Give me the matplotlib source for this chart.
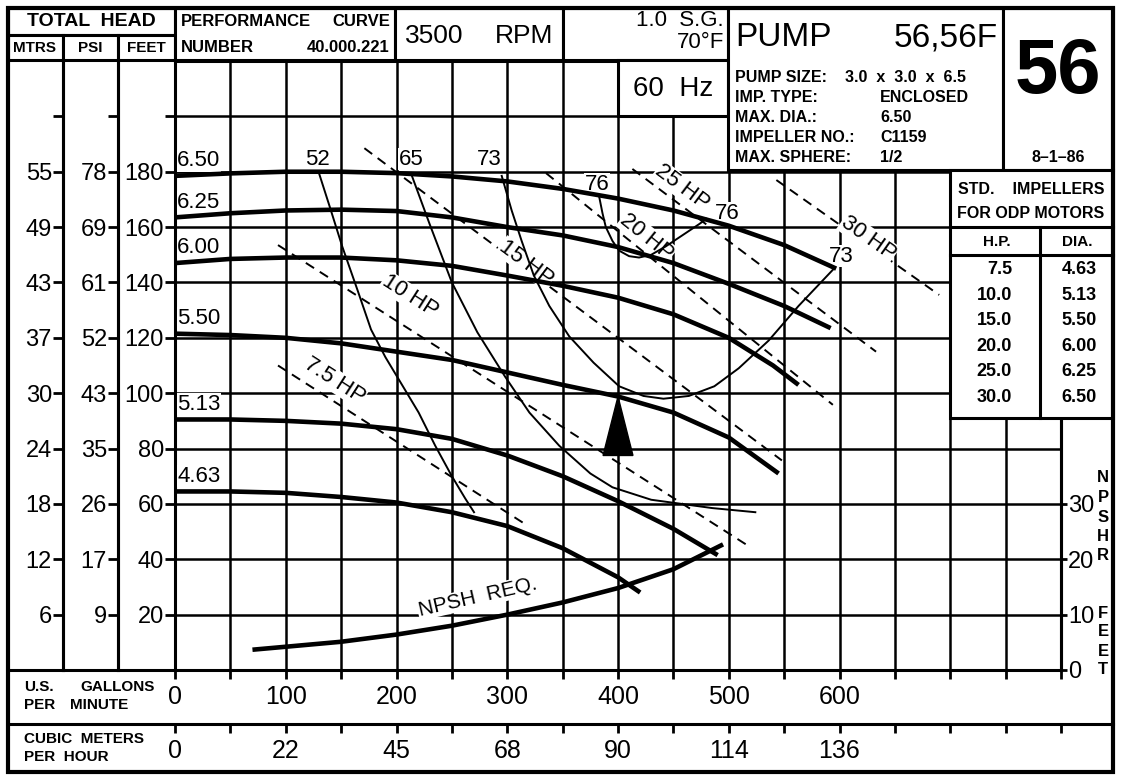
import numpy as np
import matplotlib
matplotlib.use("Agg")
import matplotlib.pyplot as plt
from matplotlib.patches import Rectangle, Polygon

plt.rcParams['font.family'] = ['Liberation Sans', 'DejaVu Sans']

W, H = 1122, 780

# ---- head curves per impeller diameter (US GPM -> total head, ft) ----
dia_names = ['6.50', '6.25', '6.00', '5.50', '5.13', '4.63']
gpm_650 = [0, 50, 100, 150, 200, 250, 300, 350, 400, 450, 500, 550, 597]
head_650 = [178.5, 179.4, 180, 180, 179.5, 178.3, 176.5, 173.8, 170.3, 166, 160.5, 153.5, 145]
gpm_625 = [0, 50, 100, 150, 200, 250, 300, 350, 400, 450, 500, 550, 592]
head_625 = [163.5, 165, 166, 166.3, 165.8, 163.5, 160, 157, 152.8, 147, 139.5, 131.5, 123.5]
gpm_600 = [0, 50, 100, 150, 200, 250, 300, 350, 400, 450, 500, 540, 563]
head_600 = [147, 148.5, 149, 149, 148, 146, 142.5, 138.8, 134.5, 128.5, 120, 110, 103]
gpm_550 = [0, 50, 100, 150, 200, 250, 300, 350, 400, 450, 500, 545]
head_550 = [121.5, 121, 120, 118, 115, 112, 107.5, 103, 98.8, 93, 84, 71]
gpm_513 = [0, 50, 100, 150, 200, 250, 300, 350, 400, 450, 490]
head_513 = [90.5, 90.5, 90, 89, 87, 83.5, 77.5, 70, 61, 51, 41.5]
gpm_463 = [0, 50, 100, 150, 200, 250, 300, 350, 400, 420]
head_463 = [64.5, 64.5, 64, 62.5, 60.5, 57, 52, 44, 33.5, 28]
dia_gpm = [gpm_650, gpm_625, gpm_600, gpm_550, gpm_513, gpm_463]
dia_head = [head_650, head_625, head_600, head_550, head_513, head_463]

# ---- efficiency curves (%) ----
eff52_gpm = [130, 140, 151, 165, 177, 190, 205, 220, 235, 250, 262, 270]
eff52_head = [179.5, 167, 153, 137, 123, 113, 103, 93, 81, 70, 62, 57]
eff65_gpm = [213, 230, 250, 273, 298, 320, 347, 375, 395, 430, 485, 524]
eff65_head = [179.5, 161, 140, 122, 106, 93, 81, 71, 66, 61.5, 58.5, 57]
eff73_gpm = [295, 304, 313, 324, 338, 356, 378, 401, 423, 441, 464, 487, 509, 536, 563, 595]
eff73_head = [178.5, 166, 155, 142.5, 131.5, 120.5, 111, 102.5, 99, 98, 99, 102.5, 109, 119, 131.5, 145]
eff76_gpm = [383, 386, 389, 395, 401, 410, 419, 430, 443, 458, 473, 480]
eff76_head = [171, 165, 160, 155, 151.5, 149.5, 149, 150, 153, 157, 161, 163]
eff_gpm = [eff52_gpm, eff65_gpm, eff73_gpm, eff76_gpm]
eff_head = [eff52_head, eff65_head, eff73_head, eff76_head]

# ---- motor horsepower lines ----
hp_names = ['7.5 HP', '10 HP', '15 HP', '20 HP', '25 HP', '30 HP']
hp_gpm = [[93, 315], [93, 517], [171, 548], [335, 594], [413, 633], [543, 690]]
hp_head = [[110, 53], [153.5, 45], [188.5, 75.7], [179.5, 95.8], [181, 115], [177, 135.5]]

# ---- NPSH required (ft) ----
npsh_gpm = [72, 100, 150, 200, 250, 300, 350, 400, 450, 493]
npsh_ft = [3.7, 4.2, 5.1, 6.4, 8.0, 10.0, 12.2, 14.8, 18.2, 22.5]

duty_gpm = 400

# ---- axis ticks ----
gpm_ticks = list(range(0, 801, 50))
gpm_labels = ['0', '100', '200', '300', '400', '500', '600']
m3h_labels = ['0', '22', '45', '68', '90', '114', '136']
feet_ticks = [20, 40, 60, 80, 100, 120, 140, 160, 180, 200]
feet_labels = ['20', '40', '60', '80', '100', '120', '140', '160', '180', '']
psi_labels = ['9', '17', '26', '35', '43', '52', '61', '69', '78', '']
mtrs_labels = ['6', '12', '18', '24', '30', '37', '43', '49', '55', '']
npsh_ticks = [0, 10, 20, 30]

table_hp = ['7.5', '10.0', '15.0', '20.0', '25.0', '30.0']
table_dia = ['4.63', '5.13', '5.50', '6.00', '6.25', '6.50']


def fr(x0, y0, x1, y1):
    # pixel box (top-left origin) -> figure fraction rect
    return [x0 / W, 1 - y1 / H, (x1 - x0) / W, (y1 - y0) / H]


def screen_angle(axis, xs, ys):
    p0 = axis.transData.transform((xs[0], ys[0]))
    p1 = axis.transData.transform((xs[-1], ys[-1]))
    return np.degrees(np.arctan2(p1[1] - p0[1], p1[0] - p0[0]))


fig = plt.figure(figsize=(W / 100, H / 100), dpi=100)
ax = fig.add_axes(fr(175, 61, 1061, 670))
ax.set_xlim(0, 800)
ax.set_ylim(0, 220)
ax.set_axisbelow(True)
ax.grid(True, color='black', lw=1.8)
for s in ax.spines.values():
    s.set_linewidth(2.2)

xlabs = []
for i, t in enumerate(gpm_ticks):
    xlabs.append(gpm_labels[i // 2] if i % 2 == 0 and i // 2 < len(gpm_labels) else '')
ax.set_xticks(gpm_ticks, xlabs)
ax.set_yticks(feet_ticks, feet_labels)
ax.tick_params(axis='x', direction='out', length=6.5, width=2, pad=4, labelsize=18)
ax.tick_params(axis='y', direction='out', length=7, width=2, pad=1, labelsize=17)

for loc, labs in [(-57 / 886, psi_labels), (-112 / 886, mtrs_labels)]:
    sec = ax.secondary_yaxis(loc)
    sec.set_yticks(feet_ticks, labs)
    sec.tick_params(direction='out', length=7, width=2, pad=1, labelsize=17)
    sec.spines['left'].set_linewidth(2.2)

# head / capacity curves
for g, h in zip(dia_gpm, dia_head):
    ax.plot(g, h, color='black', lw=3.3, zorder=4, solid_capstyle='butt')
for name, g, h in zip(dia_names, dia_gpm, dia_head):
    ax.text(2, h[0] + 3.5, name, fontsize=16, ha='left', va='baseline', zorder=3,
            bbox=dict(facecolor='white', edgecolor='none', pad=0.5))

# efficiency curves
for g, h in zip(eff_gpm, eff_head):
    ax.plot(g, h, color='black', lw=1.4, zorder=4)
eff_label_pos = [('52', 129, 184.5), ('65', 213, 184.5), ('73', 284, 184.5),
                 ('76', 381, 175.5), ('76', 499, 165), ('73', 602, 149.5)]
for s, x, y in eff_label_pos:
    ax.text(x, y, s, fontsize=16, ha='center', va='center', zorder=3,
            bbox=dict(facecolor='white', edgecolor='none', pad=0.5))

# horsepower lines
hp_label_at = [(144, 7.6), (212, 12), (317, 2.2), (426, 6.3), (458, 6.8), (626, 2.4)]
for name, g, h, (lx, off) in zip(hp_names, hp_gpm, hp_head, hp_label_at):
    ax.plot(g, h, color='black', lw=1.4, dashes=(5, 3.5), zorder=2.5)
    ly = np.interp(lx, g, h) + off
    ax.text(lx, ly, name, fontsize=16, ha='center', va='center', zorder=3,
            rotation=screen_angle(ax, g, h), rotation_mode='anchor',
            bbox=dict(facecolor='white', edgecolor='none', pad=0.5))

# duty point arrow
tip = np.interp(duty_gpm, gpm_550, head_550)
ax.add_patch(Polygon([[duty_gpm - 13.5, 77.5], [duty_gpm + 13.5, 77.5], [duty_gpm, tip]],
                     closed=True, facecolor='black', edgecolor='black', zorder=5))

# NPSH on its own right-hand scale
ax2 = ax.twinx()
ax2.set_ylim(0, 110)
ax2.set_yticks(npsh_ticks)
ax2.tick_params(axis='y', direction='out', length=4, width=2, pad=1, labelsize=17)
for k in ['left', 'top', 'bottom']:
    ax2.spines[k].set_visible(False)
ax2.spines['right'].set_linewidth(2.2)
ax2.plot(npsh_gpm, npsh_ft, color='black', lw=3.3, zorder=4)
ax2.text(273, np.interp(273, npsh_gpm, npsh_ft) + 4.2, 'NPSH  REQ.', fontsize=15,
         ha='center', va='center', rotation=screen_angle(ax2, npsh_gpm[3:7], npsh_ft[3:7]) + 2,
         bbox=dict(facecolor='white', edgecolor='none', pad=0.5))

# cubic metres per hour row
axm = fig.add_axes(fr(175, 700, 1061, 724))
axm.set_xlim(0, 800)
axm.patch.set_visible(False)
for s in axm.spines.values():
    s.set_visible(False)
axm.set_yticks([])
mlabs = []
for i, t in enumerate(gpm_ticks):
    mlabs.append(m3h_labels[i // 2] if i % 2 == 0 and i // 2 < len(m3h_labels) else '')
axm.set_xticks(gpm_ticks, mlabs)
axm.tick_params(axis='x', direction='out', length=6.5, width=2, pad=4, labelsize=18)

# ---- frame, title block and table (pixel coordinates) ----
ov = fig.add_axes([0, 0, 1, 1])
ov.set_xlim(0, W)
ov.set_ylim(H, 0)
ov.axis('off')
LW = 2.2


def box(x0, y0, x1, y1, fill='white', lw=LW):
    ov.add_patch(Rectangle((x0, y0), x1 - x0, y1 - y0, facecolor=fill,
                           edgecolor='black', lw=lw))


def seg(xs, ys, lw=LW):
    ov.plot(xs, ys, color='black', lw=lw, solid_capstyle='projecting')


def txt(x, y, s, size, ha='left', weight='bold', **kw):
    ov.text(x, y, s, fontsize=size, ha=ha, va='center', fontweight=weight, **kw)


box(8, 8, 175, 35)
box(8, 35, 63, 60)
box(63, 35, 118, 60)
box(118, 35, 175, 60)
box(175, 8, 395, 60)
box(395, 8, 563, 60)
box(563, 8, 728, 60)
box(618, 60, 728, 116)
box(728, 8, 1003, 170)
box(1003, 8, 1113, 170)
box(950, 170, 1113, 418)
seg([950, 1113], [227, 227])
seg([950, 1113], [255, 255])
seg([1040, 1040], [227, 418])
seg([63, 63], [60, 670])
seg([118, 118], [60, 670])
seg([8, 175], [670, 670])
seg([8, 1113], [724, 724])
box(8, 8, 1113, 772, fill='none', lw=3)

txt(91, 22, 'TOTAL  HEAD', 14, ha='center')
txt(35, 48, 'MTRS', 11, ha='center')
txt(90, 48, 'PSI', 11, ha='center')
txt(146, 48, 'FEET', 11, ha='center')
txt(181, 22, 'PERFORMANCE', 12)
txt(390, 22, 'CURVE', 12, ha='right')
txt(181, 48, 'NUMBER', 12)
txt(390, 48, '40.000.221', 12, ha='right')
txt(405, 36, '3500', 19, weight='normal')
txt(553, 36, 'RPM', 19, ha='right', weight='normal')
txt(724, 21, '1.0  S.G.', 16, ha='right', weight='normal')
txt(724, 43, '70°F', 16, ha='right', weight='normal')
txt(673, 89, '60  Hz', 20, ha='center', weight='normal')
txt(735, 38, 'PUMP', 24, weight='normal')
txt(998, 38, '56,56F', 24, ha='right', weight='normal')

info_keys = ['PUMP SIZE:', 'IMP. TYPE:', 'MAX. DIA.:', 'IMPELLER NO.:', 'MAX. SPHERE:']
info_vals = ['3.0  x  3.0  x  6.5', 'ENCLOSED', '6.50', 'C1159', '1/2']
info_x = [845, 880, 880, 880, 880]
for i, (k, v, vx) in enumerate(zip(info_keys, info_vals, info_x)):
    yy = 77 + i * 20
    txt(735, yy, k, 11.5)
    txt(vx, yy, v, 11.5)

txt(1058, 73, '56', 56, ha='center')
txt(1058, 157, '8–1–86', 11.5, ha='center')

txt(1031, 190, 'STD.    IMPELLERS', 11.5, ha='center')
txt(1031, 213, 'FOR ODP MOTORS', 11.5, ha='center')
txt(997, 242, 'H.P.', 11, ha='center')
txt(1077, 242, 'DIA.', 11, ha='center')
for i, (hp, d) in enumerate(zip(table_hp, table_dia)):
    yy = 270 + i * 25.4
    txt(1012, yy, hp, 13, ha='right')
    txt(1097, yy, d, 13, ha='right')

for i, ch in enumerate('NPSHR'):
    txt(1103, 478 + i * 19.5, ch, 12, ha='center')
for i, ch in enumerate('FEET'):
    txt(1103, 613 + i * 19, ch, 12, ha='center')

txt(24, 687, 'U.S.', 11)
txt(155, 687, 'GALLONS', 11, ha='right')
txt(24, 705, 'PER', 11)
txt(70, 705, 'MINUTE', 11)
txt(24, 739, 'CUBIC  METERS', 11)
txt(24, 757, 'PER  HOUR', 11)

fig.savefig('out.png', dpi=100)
